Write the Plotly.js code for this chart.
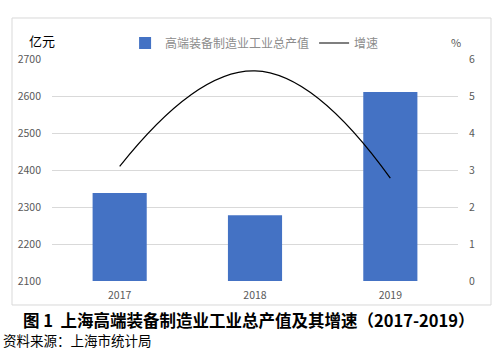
<!DOCTYPE html>
<html><head><meta charset="utf-8">
<script src="https://cdn.plot.ly/plotly-3.0.1.min.js"></script>
<style>html,body{margin:0;padding:0;background:#fff}#c{width:503px;height:351px}</style>
</head><body><div id="c"></div>
<script>
const years = ['2017', '2018', '2019'];
const outputValue = [2338, 2278, 2611];
const growthRate = [3.1, 5.68, 2.78];
const leftTicks = [2100, 2200, 2300, 2400, 2500, 2600, 2700];
const rightTicks = [0, 1, 2, 3, 4, 5, 6];

const font = '"Noto Sans CJK SC", "Microsoft YaHei", sans-serif';
const traces = [
  {type: 'bar', x: years, y: outputValue, name: '高端装备制造业工业总产值',
   marker: {color: '#4472C4'}, yaxis: 'y'},
  {type: 'scatter', mode: 'lines', x: years, y: growthRate, name: '增速',
   line: {color: '#000', width: 1.2, shape: 'spline', smoothing: 1.3}, yaxis: 'y2'}
];
const layout = {
  width: 503, height: 351,
  margin: {l: 52, r: 45, t: 59, b: 70},
  paper_bgcolor: '#fff', plot_bgcolor: '#fff',
  font: {family: font, size: 10, color: '#595959'},
  bargap: 0.6,
  showlegend: true,
  legend: {orientation: 'h', x: 0.18, y: 1.072, xanchor: 'left', yanchor: 'middle',
           font: {size: 12, color: '#8c8c8c', family: font}, itemwidth: 30, bgcolor: 'rgba(0,0,0,0)'},
  xaxis: {type: 'category', showgrid: false, zeroline: false, showline: false, ticks: '',
          tickfont: {size: 10.5, color: '#595959'}, ticklabelstandoff: 6},
  yaxis: {range: [2100, 2700], tickvals: leftTicks, showgrid: true, gridcolor: '#d9d9d9', gridwidth: 1,
          zeroline: false, showline: false, ticks: '', ticklabelstandoff: 10,
          tickfont: {size: 10.5, color: '#595959'}},
  yaxis2: {range: [0, 6], tickvals: rightTicks, overlaying: 'y', side: 'right', showgrid: false,
           zeroline: false, showline: false, ticks: '', ticklabelstandoff: 10,
           tickfont: {size: 10.5, color: '#595959'}},
  shapes: [
    {type: 'rect', xref: 'paper', yref: 'paper', x0: -0.0985, x1: 1.0813, y0: -0.1081, y1: 1.1847,
     line: {color: '#d9d9d9', width: 1}, fillcolor: 'rgba(0,0,0,0)', layer: 'below'}
  ],
  annotations: [
    {text: '亿元', xref: 'paper', yref: 'paper', x: -0.025, y: 1.085, xanchor: 'center', yanchor: 'middle',
     showarrow: false, font: {size: 13, color: '#000', family: font}},
    {text: '%', xref: 'paper', yref: 'paper', x: 0.995, y: 1.075, xanchor: 'center', yanchor: 'middle',
     showarrow: false, font: {size: 11, color: '#595959', family: font}},
    {text: '<b>图 1  上海高端装备制造业工业总产值及其增速（2017-2019）</b>', xref: 'paper', yref: 'paper',
     x: 0.485, y: -0.175, xanchor: 'center', yanchor: 'middle', showarrow: false,
     font: {size: 16.5, color: '#000', family: font}},
    {text: '资料来源：上海市统计局', xref: 'paper', yref: 'paper', x: -0.125, y: -0.265,
     xanchor: 'left', yanchor: 'middle', showarrow: false, font: {size: 13.5, color: '#000', family: font}}
  ]
};
Plotly.newPlot('c', traces, layout, {displayModeBar: false, staticPlot: true});
</script></body></html>
